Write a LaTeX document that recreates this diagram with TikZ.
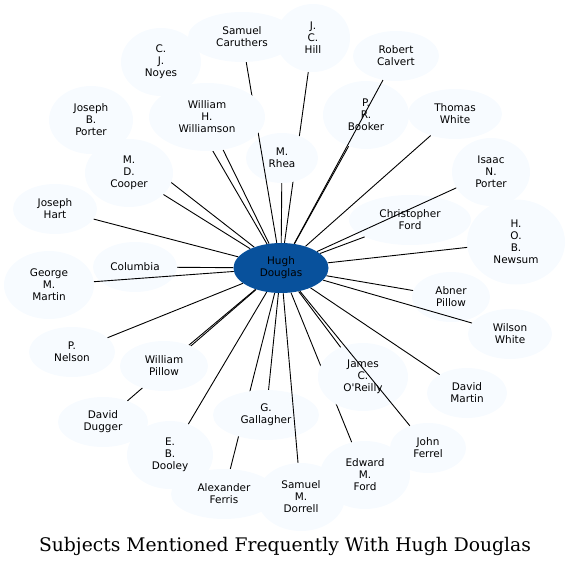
\documentclass[tikz,border=0pt]{standalone}
\usepackage{fontspec}
\usepackage{xcolor}
\usepackage{tikz}
\usetikzlibrary{shapes.geometric}
\newfontfamily\labelfont{DejaVu Sans}
\newfontfamily\captionfont{DejaVu Serif}
\definecolor{subjfill}{HTML}{F7FBFF}
\definecolor{hubfill}{HTML}{08519C}
\pgfdeclarelayer{low}
\pgfdeclarelayer{mid}
\pgfdeclarelayer{top}
\pgfsetlayers{low,main,mid,top}

\begin{document}
\begin{tikzpicture}[
        x=1bp, y=-1bp,
        subj/.style={ellipse, fill=subjfill, inner sep=0pt, align=center, minimum height=50bp,
            font=\labelfont\fontsize{10.5}{12}\selectfont},
        tall/.style={subj, minimum height=68bp},
        hub/.style={subj, fill=hubfill},
        link/.style={line width=0.9bp, draw=black}
    ]
        \useasboundingbox (0,0) rectangle (571,567);

        % subjects that lie under the links
        \node[subj, minimum width=108bp] (caruthers) at (242,37) {Samuel\\Caruthers};
        \node[tall, minimum width=74bp] (hill) at (313,38) {J.\\C.\\Hill};
        \node[subj, minimum width=86bp] (calvert) at (396,56) {Robert\\Calvert};
        \node[tall, minimum width=80bp] (noyes) at (161,62) {C.\\J.\\Noyes};
        \node[tall, minimum width=86bp] (booker) at (366,115) {P.\\R.\\Booker};
        \node[subj, minimum width=94bp] (twhite) at (455,114) {Thomas\\White};
        \node[tall, minimum width=84bp] (jbporter) at (91,120) {Joseph\\B.\\Porter};
        \node[subj, minimum width=72bp] (rhea) at (282,158) {M.\\Rhea};
        \node[tall, minimum width=78bp] (inporter) at (491,172) {Isaac\\N.\\Porter};
        \node[subj, minimum width=122bp] (cford) at (410,220) {Christopher\\Ford};
        \node[subj, minimum width=84bp] (hart) at (55,209) {Joseph\\Hart};
        \node[subj, minimum width=98bp, minimum height=85bp] (newsum) at (516,242) {H.\\O.\\B.\\Newsum};
        \node[subj, minimum width=84bp] (columbia) at (135,267) {Columbia};
        \node[tall, minimum width=90bp] (gmartin) at (49,285) {George\\M.\\Martin};
        \node[subj, minimum width=78bp] (apillow) at (451,297) {Abner\\Pillow};
        \node[subj, minimum width=84bp] (wwhite) at (510,334) {Wilson\\White};
        \node[subj, minimum width=86bp] (nelson) at (72,352) {P.\\Nelson};
        \node[tall, minimum width=90bp] (oreilly) at (363,377) {James\\C.\\O'Reilly};
        \node[subj, minimum width=80bp] (dmartin) at (467,393) {David\\Martin};
        \node[subj, minimum width=90bp] (dugger) at (103,422) {David\\Dugger};
        \node[subj, minimum width=106bp] (gallagher) at (266,415) {G.\\Gallagher};
        \node[tall, minimum width=86bp] (dooley) at (170,455) {E.\\B.\\Dooley};
        \node[subj, minimum width=76bp] (ferrel) at (428,448) {John\\Ferrel};
        \node[tall, minimum width=90bp] (eford) at (365,475) {Edward\\M.\\Ford};
        \node[subj, minimum width=106bp] (ferris) at (224,494) {Alexander\\Ferris};
        \node[tall, minimum width=88bp] (dorrell) at (301,497) {Samuel\\M.\\Dorrell};

        % subjects that hide some links
        \begin{pgfonlayer}{top}
            \node[tall, minimum width=116bp] (williamson) at (207,117) {William\\H.\\Williamson};
            \node[tall, minimum width=88bp] (cooper) at (129,173) {M.\\D.\\Cooper};
            \node[subj, minimum width=88bp] (wpillow) at (164,366) {William\\Pillow};
            \node[hub, minimum width=95bp] (hd) at (281,268) {Hugh\\Douglas};
        \end{pgfonlayer}

        \begin{pgfonlayer}{low}
            \foreach \s in {hill, ferris, eford}
                \draw[link] (hd) -- (\s);
        \end{pgfonlayer}

        \begin{pgfonlayer}{mid}
            \foreach \s in {caruthers, calvert, noyes, booker, twhite, jbporter, rhea, inporter,
                    cford, hart, newsum, columbia, gmartin, apillow, wwhite, nelson, oreilly,
                    dmartin, dugger, gallagher, dooley, ferrel, dorrell, williamson, cooper, wpillow}
                \draw[link] (hd) -- (\s);
        \end{pgfonlayer}

        \node[font=\captionfont\fontsize{18.8}{20}\selectfont, anchor=base] (title) at (285,551)
            {Subjects Mentioned Frequently With Hugh Douglas};
    \end{tikzpicture}
\end{document}
